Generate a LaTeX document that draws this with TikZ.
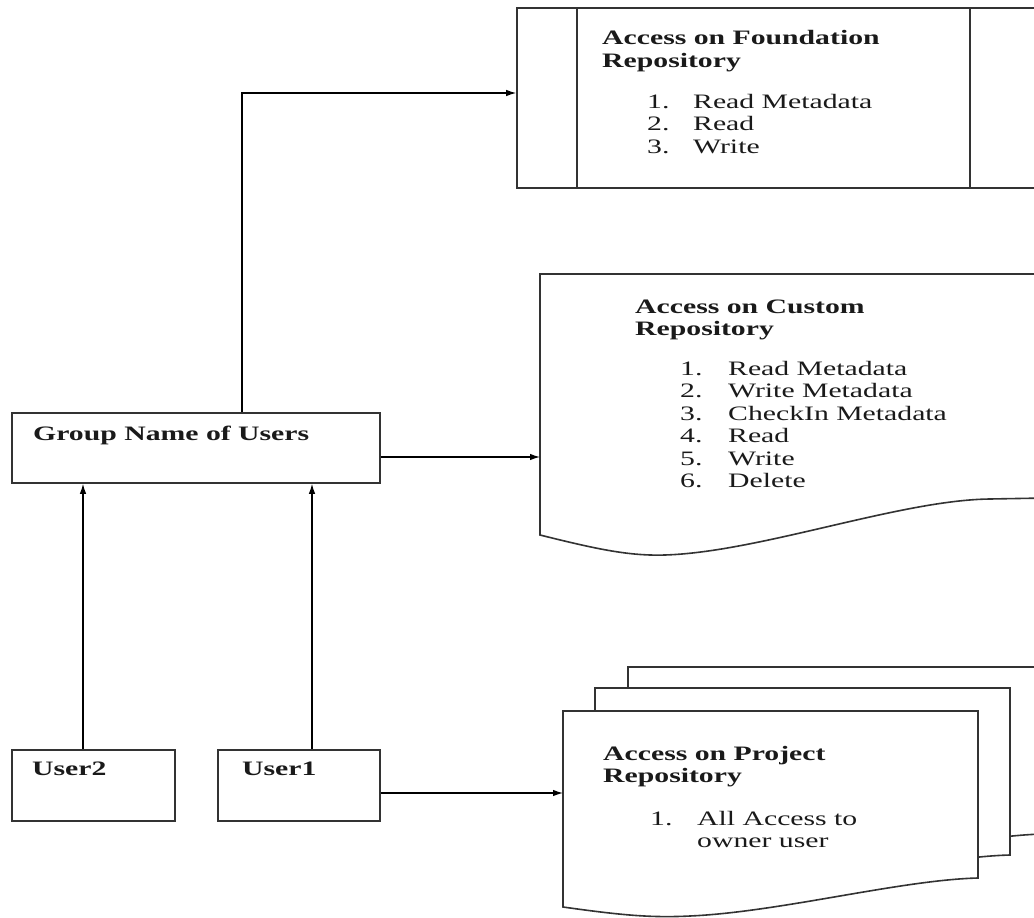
\documentclass[tikz,border=0pt]{standalone}
\usepackage{fontspec}
\setmainfont{Liberation Serif}[FakeStretch=1.45]
\usetikzlibrary{arrows.meta}
\definecolor{boxc}{HTML}{333333}
\definecolor{txtc}{HTML}{1A1A1A}
\tikzset{
  box/.style={draw=boxc, line width=1.6pt, fill=white, inner sep=0pt},
  lbl/.style={anchor=base west, inner sep=0pt, text=txtc, font=\fontsize{20.5}{22.5}\selectfont},
  arr/.style={draw=black, line width=1.2pt, -{Latex[length=10pt,width=6.5pt]}},
  docline/.style={draw=boxc, line width=1.6pt, fill=white, line join=miter}
}
\begin{document}
\begin{tikzpicture}[x=1pt,y=-1pt]
\useasboundingbox (0,0) rectangle (1034,918);
\clip (0,0) rectangle (1034,918);
\fill[white] (0,0) rectangle (1034,918);

% Foundation repository (predefined process shape)
\node[box, minimum width=528pt, minimum height=180pt] (fd) at (781,98) {};
\draw[boxc, line width=1.6pt] ([xshift=61pt]fd.north west) -- ([xshift=61pt]fd.south west);
\draw[boxc, line width=1.6pt] ([xshift=454pt]fd.north west) -- ([xshift=454pt]fd.south west);
\node[lbl] (fdh) at (602,45) {\begin{tabular}[t]{@{}l@{}}\bfseries Access on Foundation\\\bfseries Repository\end{tabular}};
\node[lbl] (fdl) at (647,108) {\begin{tabular}[t]{@{}l@{}}\makebox[46pt][l]{1.}Read Metadata\\\makebox[46pt][l]{2.}Read\\\makebox[46pt][l]{3.}Write\end{tabular}};

% Custom repository (document shape)
\draw[docline] (540,274) -- (1045,274) -- (1045,498) -- (990,499)
  .. controls (900,500) and (760,552) .. (665,555)
  .. controls (630,556) and (600,550) .. (540,535) -- cycle;
\coordinate (cuin) at (540,457);
\node[lbl] (cuh) at (635,313) {\begin{tabular}[t]{@{}l@{}}\bfseries Access on Custom\\\bfseries Repository\end{tabular}};
\node[lbl] (cul) at (680,375) {\begin{tabular}[t]{@{}l@{}}\makebox[48pt][l]{1.}Read Metadata\\\makebox[48pt][l]{2.}Write Metadata\\\makebox[48pt][l]{3.}CheckIn Metadata\\\makebox[48pt][l]{4.}Read\\\makebox[48pt][l]{5.}Write\\\makebox[48pt][l]{6.}Delete\end{tabular}};

% Project repository (multi-document shape)
\foreach \dx/\dy in {65/-44, 32/-23, 0/0}{
  \begin{scope}[shift={(\dx,\dy)}]
  \draw[docline] (563,711) -- (978,711) -- (978,878)
    .. controls (900,880) and (780,912) .. (690,916)
    .. controls (650,918) and (620,915) .. (563,907) -- cycle;
  \end{scope}
}
\coordinate (pjin) at (563,793);
\node[lbl] (pjh) at (603,760) {\begin{tabular}[t]{@{}l@{}}\bfseries Access on Project\\\bfseries Repository\end{tabular}};
\node[lbl] (pjl) at (650,825) {\begin{tabular}[t]{@{}l@{}}\makebox[47pt][l]{1.}All Access to\\\hspace*{47pt}owner user\end{tabular}};

% Group and users
\node[box, minimum width=368pt, minimum height=70pt] (grp) at (196,448) {};
\node[lbl] (grpt) at (33,440) {\bfseries Group Name of Users};
\node[box, minimum width=163pt, minimum height=71pt] (u2) at (93.5,785.5) {};
\node[lbl] (u2t) at (32,775) {\bfseries User2};
\node[box, minimum width=162pt, minimum height=71pt] (u1) at (299,785.5) {};
\node[lbl] (u1t) at (242,775) {\bfseries User1};

% Connectors
\draw[arr] ([xshift=-10.5pt]u2.north) -- ([xshift=-10.5pt]u2.north |- grp.south);
\draw[arr] ([xshift=13pt]u1.north) -- ([xshift=13pt]u1.north |- grp.south);
\draw[arr] ([xshift=46pt]grp.north) |- ([yshift=5pt]fd.west);
\draw[arr] (cuin -| grp.east) -- (cuin);
\draw[arr] (pjin -| u1.east) -- (pjin);
\end{tikzpicture}
\end{document}
